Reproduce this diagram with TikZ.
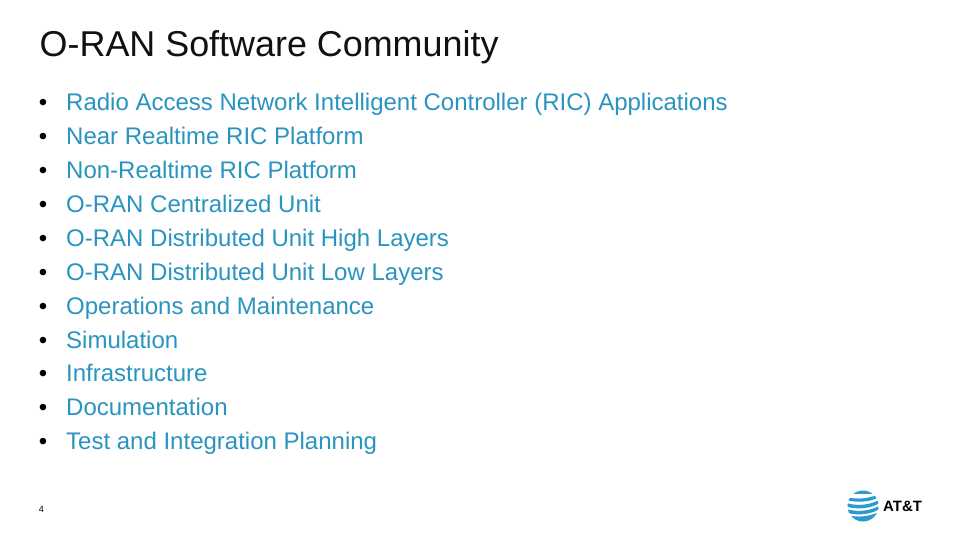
\documentclass[tikz,border=0pt]{standalone}
\usepackage{fontspec}
\setmainfont{Liberation Sans}
\definecolor{attblue}{HTML}{2A94C0}
\definecolor{globeblue}{HTML}{2A9AD0}
\definecolor{titlecol}{HTML}{111111}
\tikzset{
 itemtext/.style={anchor=base west,inner sep=0pt,text=attblue,font=\fontsize{24pt}{28pt}\selectfont},
 bullettext/.style={anchor=base west,inner sep=0pt,text=black,font=\fontsize{24pt}{28pt}\selectfont},
}
\begin{document}
\begin{tikzpicture}[x=1pt,y=-1pt]
\useasboundingbox (0,0) rectangle (960,540);
\fill[white] (0,0) rectangle (960,540);
\node[anchor=base west,inner sep=0pt,text=titlecol,font=\fontsize{35.9pt}{40pt}\selectfont] (title) at (39.5,56.5) {O-RAN Software Community};
\foreach \n/\y/\t in {a/110.5/Radio Access Network Intelligent Controller (RIC) Applications,
 b/144.4/Near Realtime RIC Platform,
 c/178.3/Non-Realtime RIC Platform,
 d/212.2/O-RAN Centralized Unit,
 e/246.1/O-RAN Distributed Unit High Layers,
 f/280/O-RAN Distributed Unit Low Layers,
 g/314/Operations and Maintenance,
 h/348/Simulation,
 i/381.8/Infrastructure,
 j/415.7/Documentation,
 k/449.6/Test and Integration Planning}{
 \node[bullettext] (b\n) at (38.7,\y) {•};
 \node[itemtext] (t\n) at (66,\y) {\t};
}
\node[anchor=base west,inner sep=0pt,text=black,font=\fontsize{9pt}{10pt}\selectfont] (page) at (38.7,512.3) {4};
% logo globe
\begin{scope}
\clip (863,506) circle (15.5);
\fill[white] (846,489) rectangle (880,523);
\fill[globeblue] (846,489) rectangle (880,494);
\fill[globeblue] (846,497) .. controls (858,500) and (870,498.5) .. (880,493.5) -- (880,497) .. controls (870,502) and (858,503) .. (846,500) -- cycle;
\fill[globeblue] (846,503) .. controls (858,506.5) and (870,505) .. (880,499.5) -- (880,503) .. controls (870,508.5) and (858,510) .. (846,506.5) -- cycle;
\fill[globeblue] (846,509) .. controls (858,512.5) and (870,511) .. (880,505.5) -- (880,509) .. controls (870,514.5) and (858,516) .. (846,512.5) -- cycle;
\fill[globeblue] (846,515) .. controls (858,518) and (870,516.5) .. (880,511.5) -- (880,523) -- (846,523) -- cycle;
\end{scope}
\node[anchor=base west,inner sep=0pt,text=black,font=\fontsize{15pt}{16pt}\selectfont\bfseries] (logo) at (883,511.5) {AT\&T};
\end{tikzpicture}
\end{document}
